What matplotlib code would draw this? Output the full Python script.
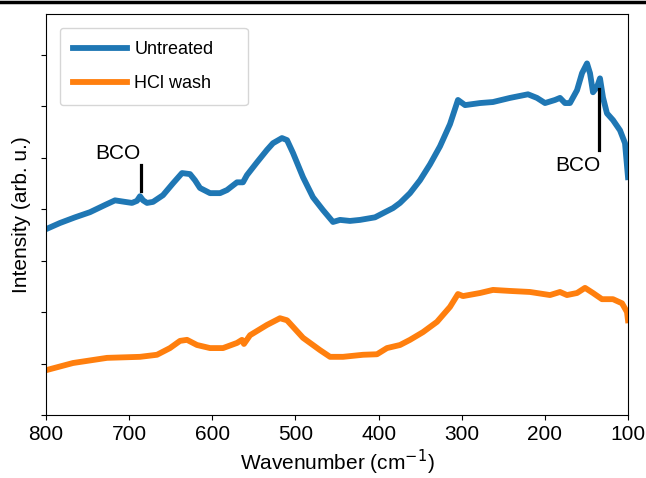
import matplotlib
matplotlib.use("Agg")
import matplotlib.pyplot as plt
from matplotlib.lines import Line2D

plt.rcParams['font.family'] = ['Liberation Sans', 'DejaVu Sans']

# Untreated (blue)
wn_untreated = [800.0, 783.2, 765.1, 747.1, 729.0, 717.0, 705.0, 696.6, 690.6, 686.9,
                683.3, 678.5, 671.3, 659.3, 647.3, 636.4, 626.8, 620.8, 614.8, 602.7,
                590.7, 582.3, 570.3, 563.1, 558.3, 546.2, 534.2, 527.0, 516.2, 510.1,
                502.9, 490.9, 478.9, 466.8, 454.8, 446.4, 434.4, 422.3, 404.3, 392.3,
                382.6, 374.2, 362.2, 350.2, 338.1, 326.1, 314.1, 304.5, 296.0, 278.0,
                262.4, 241.9, 220.3, 209.5, 199.8, 187.8, 181.8, 175.8, 169.8, 161.3,
                155.3, 149.3, 145.7, 142.1, 137.3, 133.7, 130.1, 125.3, 118.1, 109.6,
                103.6, 100.0]
int_untreated = [3.61, 3.73, 3.84, 3.94, 4.08, 4.17, 4.14, 4.12, 4.16, 4.25,
                 4.17, 4.12, 4.14, 4.27, 4.50, 4.70, 4.68, 4.56, 4.41, 4.31,
                 4.31, 4.37, 4.52, 4.52, 4.66, 4.91, 5.15, 5.28, 5.38, 5.34,
                 5.09, 4.62, 4.23, 3.98, 3.75, 3.79, 3.77, 3.79, 3.84, 3.94,
                 4.02, 4.12, 4.31, 4.56, 4.87, 5.22, 5.65, 6.12, 6.02, 6.06,
                 6.08, 6.16, 6.23, 6.16, 6.06, 6.12, 6.16, 6.06, 6.06, 6.31,
                 6.64, 6.83, 6.64, 6.27, 6.37, 6.54, 6.17, 5.86, 5.73, 5.53,
                 5.28, 4.62]

# HCl wash (orange)
wn_hcl = [800.0, 767.5, 726.6, 686.9, 666.5, 650.9, 638.8, 630.4, 618.4, 602.7,
          587.1, 570.3, 564.3, 561.9, 554.6, 534.2, 518.6, 510.1, 490.9, 470.4,
          458.4, 442.8, 418.7, 401.9, 389.9, 374.2, 362.2, 346.6, 329.7, 314.1,
          304.5, 298.5, 278.0, 262.4, 241.9, 217.9, 193.8, 181.8, 173.4, 161.3,
          151.7, 142.1, 131.3, 118.1, 107.2, 101.2, 100.0]
int_hcl = [0.87, 1.01, 1.11, 1.13, 1.17, 1.30, 1.44, 1.46, 1.36, 1.30,
           1.30, 1.40, 1.46, 1.38, 1.55, 1.75, 1.88, 1.84, 1.50, 1.26,
           1.13, 1.13, 1.17, 1.18, 1.30, 1.36, 1.46, 1.61, 1.81, 2.10,
           2.35, 2.31, 2.37, 2.43, 2.41, 2.39, 2.33, 2.39, 2.33, 2.37,
           2.47, 2.37, 2.25, 2.25, 2.17, 2.00, 1.84]

series_labels = ["Untreated", "HCl wash"]
x_ticks = [800, 700, 600, 500, 400, 300, 200, 100]
y_ticks = [0, 1, 2, 3, 4, 5, 6, 7]

# BCO annotations: (text x, text y, line x, line y0, line y1)
bco_left = (713, 5.08, 686, 4.35, 4.85)
bco_right = (160, 4.85, 135, 5.15, 6.33)

fig = plt.figure(figsize=(6.46, 4.78), dpi=100)
ax = fig.add_axes([46/646, 63/478, 582/646, 401/478])

ax.plot(wn_untreated, int_untreated, color='#1f77b4', lw=4.2, label=series_labels[0])
ax.plot(wn_hcl, int_hcl, color='#ff7f0e', lw=4.2, label=series_labels[1])

ax.set_xlim(800, 100)
ax.set_ylim(0, 7.79)
ax.set_xticks(x_ticks)
ax.set_yticks(y_ticks)
ax.set_yticklabels([])
ax.tick_params(axis='x', labelsize=15)
ax.set_xlabel("Wavenumber (cm$^{-1}$)", fontsize=15, labelpad=3)
ax.set_ylabel("Intensity (arb. u.)", fontsize=15, labelpad=4)

for tx, ty, lx, ly0, ly1 in (bco_left, bco_right):
    ax.text(tx, ty, "BCO", fontsize=15, ha='center', va='center')
    ax.plot([lx, lx], [ly0, ly1], color='black', lw=2.3)

ax.legend(loc='upper left', fontsize=13, handlelength=3.0, handletextpad=0.4,
          borderpad=0.75, labelspacing=0.93, borderaxespad=0.75,
          bbox_to_anchor=(0.0, 0.0, 0.370, 1.0), mode='expand')

fig.add_artist(Line2D([0, 1], [0.996, 0.996], color='black', lw=2.5,
                      transform=fig.transFigure))

fig.savefig("out.png", dpi=100)
